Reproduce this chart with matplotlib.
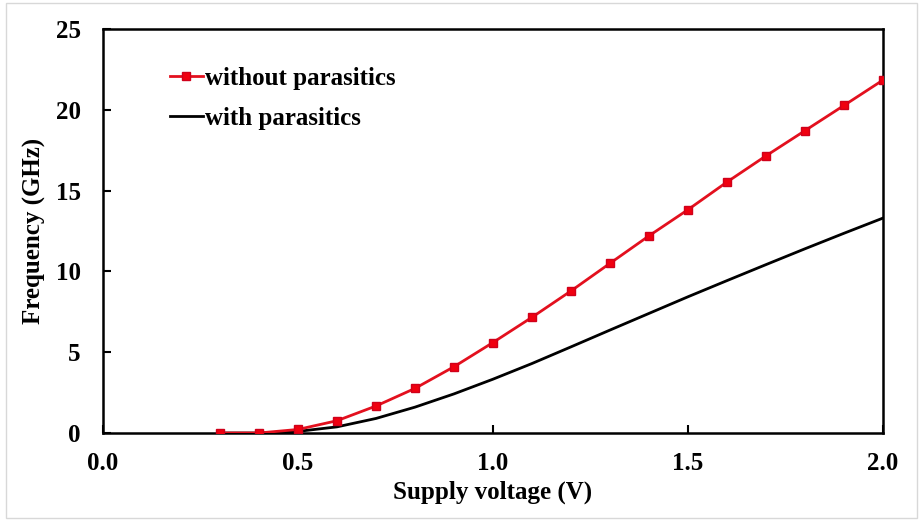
import matplotlib.pyplot as plt
from matplotlib.patches import Rectangle

# supply voltage (V)
voltage = [0.3, 0.4, 0.5, 0.6, 0.7, 0.8, 0.9, 1.0, 1.1, 1.2,
           1.3, 1.4, 1.5, 1.6, 1.7, 1.8, 1.9, 2.0]
# frequency (GHz)
freq_no_para = [0.0, 0.0, 0.22, 0.76, 1.67, 2.76, 4.1, 5.6, 7.16, 8.79,
                10.5, 12.2, 13.82, 15.53, 17.15, 18.71, 20.27, 21.84]
freq_para = [0.0, 0.0, 0.1, 0.38, 0.9, 1.6, 2.42, 3.33, 4.3, 5.33,
             6.37, 7.4, 8.43, 9.43, 10.42, 11.4, 12.36, 13.3]

plt.rcParams['font.family'] = ['Liberation Serif', 'DejaVu Serif']
plt.rcParams['font.weight'] = 'bold'

fig = plt.figure(figsize=(9.21, 5.2), dpi=100)
ax = fig.add_axes([0.1118, 0.1673, 0.8469, 0.7769])

ax.plot(voltage, freq_no_para, color='#e3101e', lw=2, marker='s', ms=6,
        mfc='#f00010', mec='#d0001a', label='without parasitics', zorder=3)
ax.plot(voltage, freq_para, color='black', lw=2, label='with parasitics', zorder=2)

ax.set_xlim(0, 2.0)
ax.set_ylim(0, 25)
ax.set_xticks([0.0, 0.5, 1.0, 1.5, 2.0])
ax.set_xticklabels(['0.0', '0.5', '1.0', '1.5', '2.0'])
ax.set_yticks([0, 5, 10, 15, 20, 25])
ax.tick_params(direction='in', length=6, width=1.5, labelsize=18)
ax.tick_params(axis='x', pad=14)
ax.tick_params(axis='y', pad=16)
for s in ax.spines.values():
    s.set_linewidth(1.8)

ax.set_xlabel('Supply voltage (V)', fontsize=18, fontweight='bold', labelpad=4)
ax.set_ylabel('Frequency (GHz)', fontsize=18, fontweight='bold', labelpad=7)

ax.legend(loc='upper left', bbox_to_anchor=(0.086, 0.907), frameon=False,
          fontsize=18, handlelength=1.3, handletextpad=0.1, labelspacing=0.7,
          borderaxespad=0, borderpad=0)

fig.patches.append(Rectangle((6 / 921, 2 / 520), 911 / 921, 515 / 520,
                             transform=fig.transFigure, fill=False,
                             edgecolor='#d8d8d8', lw=1))

fig.savefig('out.png', dpi=100)
